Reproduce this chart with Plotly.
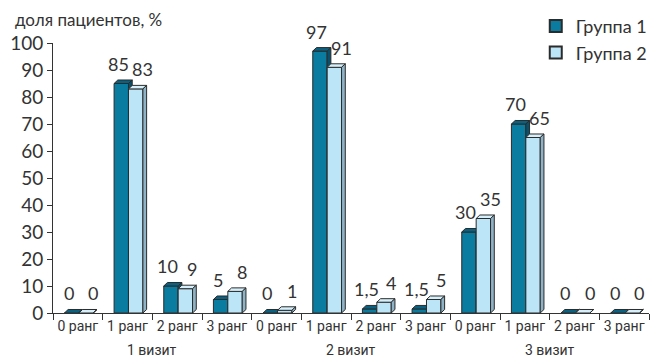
import plotly.graph_objects as go

categories = ["0 ранг", "1 ранг", "2 ранг", "3 ранг",
              "0 ранг", "1 ранг", "2 ранг", "3 ранг",
              "0 ранг", "1 ранг", "2 ранг", "3 ранг"]
visits = ["1 визит", "2 визит", "3 визит"]
group1 = [0, 85, 10, 5, 0, 97, 1.5, 1.5, 30, 70, 0, 0]
group2 = [0, 83, 9, 8, 1, 91, 4, 5, 35, 65, 0, 0]
series_names = ["Группа 1", "Группа 2"]

# geometry (data units)
W = 0.29          # bar width
DX = 0.075        # 3D depth in x
DY = 1.3          # 3D depth in y
OFFS = [-0.27, 0.02]
LABEL_DX = [-0.06, 0.14]
EDGE = "#2b2b2b"
TXT = "#333333"
NARROW = "Roboto, sans-serif"
styles = [
    dict(front="#0A7CA0", top="#0A6283", side="#08516C"),
    dict(front="#BDE5F8", top="#D6F0FB", side="#8FB3C6"),
]

def fmt(v):
    return ("%g" % v).replace(".", ",")

fig = go.Figure()

for g, (vals, st) in enumerate(zip([group1, group2], styles)):
    fx, fy, tx, ty, sx, sy = [], [], [], [], [], []
    for i, v in enumerate(vals):
        x0 = i + OFFS[g]
        x1 = x0 + W
        fx += [x0, x0, x1, x1, x0, None]
        fy += [0, v, v, 0, 0, None]
        tx += [x0, x0 + DX, x1 + DX, x1, x0, None]
        ty += [v, v + DY, v + DY, v, v, None]
        sx += [x1, x1 + DX, x1 + DX, x1, x1, None]
        sy += [0, DY, v + DY, v, 0, None]
    for xs, ys, col in [(fx, fy, st["front"]), (tx, ty, st["top"]), (sx, sy, st["side"])]:
        fig.add_trace(go.Scatter(x=xs, y=ys, mode="lines", fill="toself",
                                 fillcolor=col, line=dict(color=EDGE, width=1),
                                 hoverinfo="skip", showlegend=False))

# value labels
for g, vals in enumerate([group1, group2]):
    for i, v in enumerate(vals):
        fig.add_annotation(x=i + OFFS[g] + W / 2 + LABEL_DX[g], y=v + DY,
                           xref="x", yref="y", yanchor="bottom", yshift=3,
                           text=fmt(v), showarrow=False,
                           font=dict(family="Lato, sans-serif", size=18, color=TXT))

# legend entries
for name, st in zip(series_names, styles):
    fig.add_trace(go.Scatter(x=[None], y=[None], mode="markers", name=name,
                             marker=dict(symbol="square", size=13, color=st["front"],
                                         line=dict(color=EDGE, width=2))))

for k, vname in enumerate(visits):
    fig.add_annotation(x=4 * k + 1.5, y=0, yref="y", xref="x", text=vname,
                       showarrow=False, yshift=-37,
                       font=dict(family=NARROW, size=14, color=TXT))

fig.add_annotation(x=0, xref="paper", xanchor="left", y=1.0, yref="paper",
                   yanchor="bottom", xshift=-40, yshift=11,
                   text="доля пациентов, %", showarrow=False,
                   font=dict(family="Lato, sans-serif", size=17, color=TXT))

fig.update_layout(
    width=657, height=359,
    margin=dict(l=53, r=5, t=43, b=46),
    paper_bgcolor="white", plot_bgcolor="white",
    showlegend=True,
    legend=dict(x=0.81, y=1.13, xanchor="left", yanchor="top",
                font=dict(family="Lato, sans-serif", size=18, color=TXT),
                bgcolor="rgba(0,0,0,0)", itemsizing="constant"),
    xaxis=dict(range=[-0.5, 11.5], tickmode="array", tickvals=list(range(12)),
               ticktext=categories, ticks="", showgrid=False,
               zeroline=False, showline=True, linecolor=TXT, linewidth=1,
               tickfont=dict(family=NARROW, size=14, color=TXT),
               minor=dict(tickmode="linear", tick0=-0.5, dtick=1, ticks="outside",
                          ticklen=6, tickcolor=TXT, showgrid=False),
               fixedrange=True),
    yaxis=dict(range=[0, 100], tickmode="linear", tick0=0, dtick=10,
               ticks="outside", ticklen=5, tickcolor=TXT,
               showgrid=False, zeroline=False, showline=True,
               linecolor=TXT, linewidth=1,
               tickfont=dict(family="Lato, sans-serif", size=19, color=TXT),
               fixedrange=True),
)

fig.write_html("out.html")
